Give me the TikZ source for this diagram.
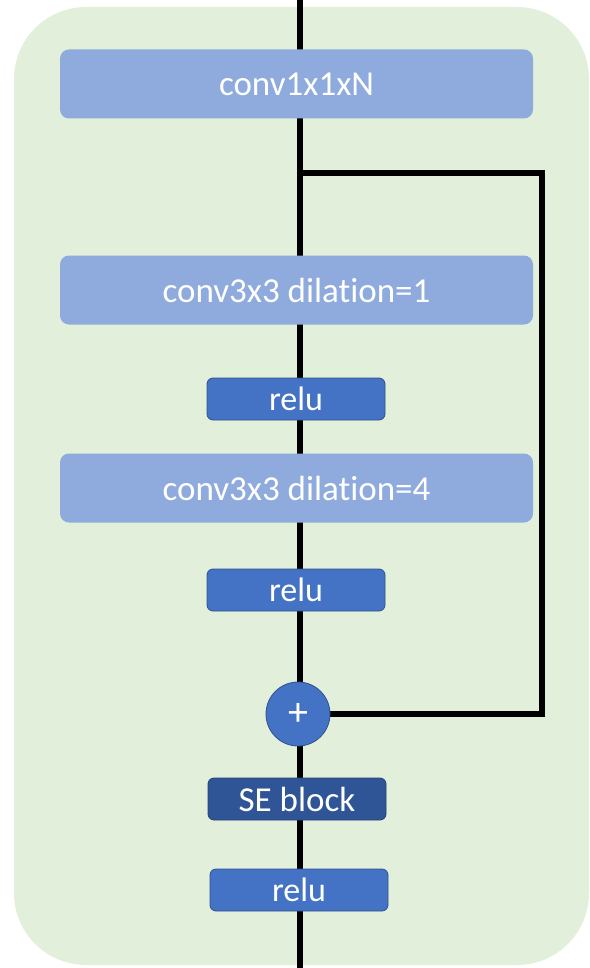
\documentclass[tikz,border=0pt]{standalone}
\usepackage{fontspec}
\setmainfont[RawFeature={-liga;-dlig;-clig;-calt}]{Carlito}
\usetikzlibrary{backgrounds}
\definecolor{panelgreen}{HTML}{E2EFDA}
\definecolor{convblue}{HTML}{8FAADC}
\definecolor{relublue}{HTML}{4472C4}
\definecolor{seblue}{HTML}{2F5597}
\definecolor{edgeblue}{HTML}{2F528F}
\tikzset{
  convbox/.style={rectangle, rounded corners=9pt, fill=convblue, draw=none,
    minimum width=473pt, minimum height=69pt, text=white,
    font=\fontsize{35}{42}\selectfont, inner sep=0pt},
  relubox/.style={rectangle, rounded corners=6pt, fill=relublue, draw=edgeblue,
    line width=0.8pt, minimum width=178pt, minimum height=42pt, text=white,
    font=\fontsize{34}{40}\selectfont, inner sep=0pt},
  sebox/.style={relubox, fill=seblue, draw=seblue!80!black,
    font=\fontsize{35}{42}\selectfont},
  addnode/.style={circle, fill=relublue, draw=edgeblue, line width=0.8pt,
    minimum size=64pt, inner sep=0pt, text=white,
    font=\fontsize{40}{46}\selectfont},
  wire/.style={line width=5.5pt, black},
}
\begin{document}
\begin{tikzpicture}[x=1pt,y=-1pt]
  \useasboundingbox (0,0) rectangle (589,968);

  % blocks
  \node[convbox] (c1)   at (296.5,84)  {conv1x1xN};
  \node[convbox] (c2)   at (296.5,290) {conv3x3 dilation=1};
  \node[relubox] (r1)   at (296,399)   {relu};
  \node[convbox] (c3)   at (296.5,488) {conv3x3 dilation=4};
  \node[relubox] (r2)   at (296,590)   {relu};
  \node[addnode] (add)  at (298,714)   {+};
  \node[sebox]   (se)   at (297,799)   {SE block};
  \node[relubox] (r3)   at (299,890)   {relu};

  % wire ends and the skip path
  \coordinate (top)    at (300,0);
  \coordinate (bottom) at (300,968);
  \coordinate (split)  at (300,173);
  \coordinate (turn)   at (542,173);

  \begin{scope}[on background layer]
    % panel behind everything
    \fill[panelgreen, rounded corners=72pt] (14,7) rectangle (589,965);
    \draw[wire] (top) -- (bottom);
    \draw[wire, line join=miter] (split) -- (turn) |- (add.east);
  \end{scope}
\end{tikzpicture}
\end{document}
